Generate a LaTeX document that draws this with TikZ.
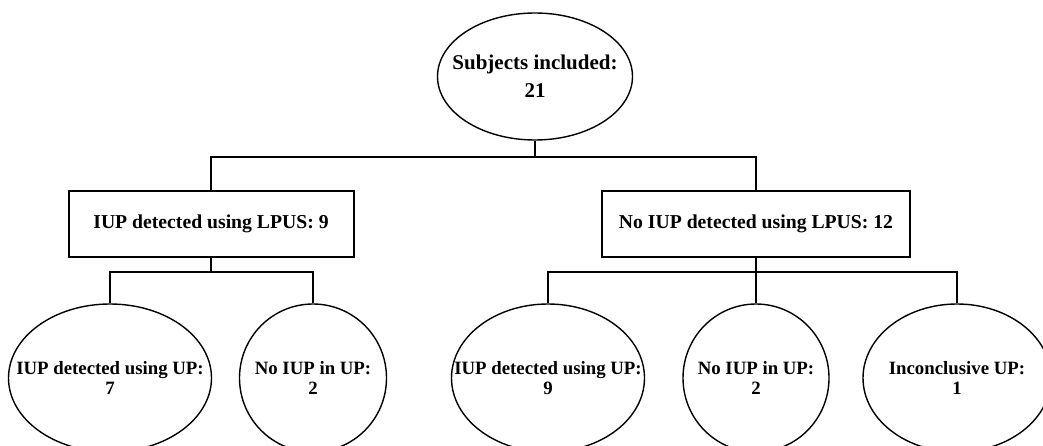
\documentclass[tikz,border=0pt]{standalone}
\usepackage{fontspec}
\setmainfont{Liberation Serif}
\usetikzlibrary{shapes.geometric}
\tikzset{
  oval/.style={draw, ellipse, line width=1.4pt, inner xsep=-40pt, inner ysep=0pt,
    align=center, minimum height=148pt, font=\bfseries\fontsize{18.8}{20.5}\selectfont},
  box/.style={draw, rectangle, line width=2pt, inner sep=0pt, align=center,
    minimum height=66pt, font=\bfseries\fontsize{19.7}{24}\selectfont},
}
\begin{document}
\begin{tikzpicture}[x=1pt,y=1pt]
      \clip (0,0) rectangle (1043,445);
      \draw
        (535,368.5) node[oval, minimum width=195pt, minimum height=127pt,
          font=\bfseries\fontsize{21}{28}\selectfont] (top){Subjects included:\\21}
        (211,221) node[box, minimum width=285pt] (lbox){IUP detected using LPUS: 9}
        (756,221) node[box, minimum width=308pt] (rbox){No IUP detected using LPUS: 12}
        (110,67) node[oval, minimum width=203pt] (l1){IUP detected using UP:\\7}
        (313,67) node[oval, minimum width=147pt] (l2){No IUP in UP:\\2}
        (548,67) node[oval, minimum width=193pt] (r1){IUP detected using UP:\\9}
        (756,67) node[oval, minimum width=146pt] (r2){No IUP in UP:\\2}
        (957,67) node[oval, minimum width=188pt] (r3){Inconclusive UP:\\1};
      \coordinate (topjoin) at (535,288);
      \coordinate (ljoin) at (211,173);
      \coordinate (rjoin) at (756,173);
      \begin{scope}[line width=2pt]
        \draw (top) -- (topjoin);
        \draw (lbox.north) |- (topjoin) -| (rbox.north);
        \draw (lbox) -- (ljoin);
        \draw (l1.north) |- (ljoin) -| (l2.north);
        \draw (rbox) -- (rjoin);
        \draw (r1.north) |- (rjoin) -| (r3.north);
        \draw (rjoin) -- (r2.north);
      \end{scope}
    \end{tikzpicture}
\end{document}
